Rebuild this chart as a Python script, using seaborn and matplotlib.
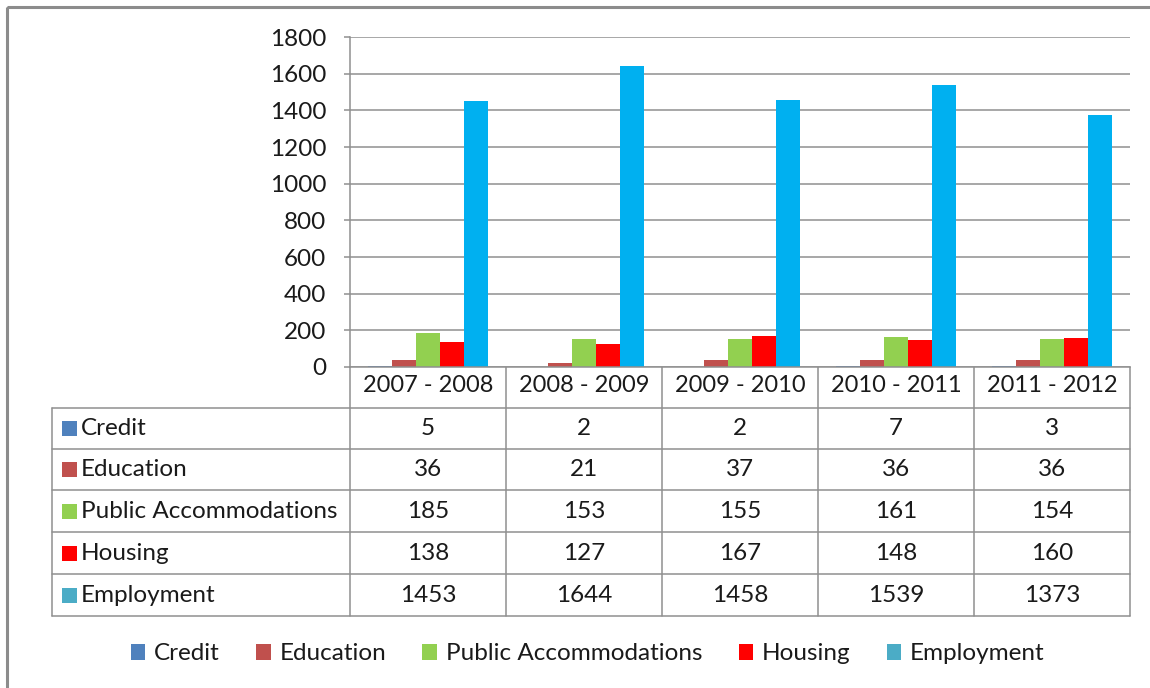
import matplotlib
matplotlib.use("Agg")
import matplotlib.pyplot as plt
from matplotlib.patches import Patch, Rectangle
import seaborn as sns
import pandas as pd

# ---- data ----
periods = ["2007 - 2008", "2008 - 2009", "2009 - 2010", "2010 - 2011", "2011 - 2012"]
series_names = ["Credit", "Education", "Public Accommodations", "Housing", "Employment"]
credit = [5, 2, 2, 7, 3]
education = [36, 21, 37, 36, 36]
public_accommodations = [185, 153, 155, 161, 154]
housing = [138, 127, 167, 148, 160]
employment = [1453, 1644, 1458, 1539, 1373]
y_ticks = [0, 200, 400, 600, 800, 1000, 1200, 1400, 1600, 1800]

series_values = [credit, education, public_accommodations, housing, employment]
bar_colors = ["#4F81BD", "#C0504D", "#92D050", "#FF0000", "#00B0F0"]
key_colors = ["#4F81BD", "#C0504D", "#92D050", "#FF0000", "#4BACC6"]

rows = []
for name, vals in zip(series_names, series_values):
    for p, v in zip(periods, vals):
        rows.append({"period": p, "type": name, "count": v})
df = pd.DataFrame(rows)

sns.set_theme(style="white")
FONT = ["Lato", "DejaVu Sans"]
plt.rcParams["font.family"] = FONT
FS = 17.5
TXT = "#1a1a1a"

W, H = 1150, 688
fig = plt.figure(figsize=(W / 100, H / 100), dpi=100)
fig.patch.set_facecolor("white")

# pixel geometry
AX_L, AX_R, AX_T, AX_B = 350, 1130, 37, 367
ax = fig.add_axes([AX_L / W, 1 - AX_B / H, (AX_R - AX_L) / W, (AX_B - AX_T) / H])

sns.barplot(data=df, x="period", y="count", hue="type", order=periods,
            hue_order=series_names, palette=bar_colors, width=0.77,
            saturation=1, ax=ax, legend=False, edgecolor="none", linewidth=0)

GRID = "#8f8f8f"
ax.set_xlim(-0.5, len(periods) - 0.5)
ax.set_ylim(0, 1800)
ax.set_yticks(y_ticks)
ax.set_yticklabels([str(t) for t in y_ticks])
ax.yaxis.grid(True, color=GRID, linewidth=1.1)
ax.set_axisbelow(True)
ax.set_xlabel("")
ax.set_ylabel("")
for s in ["top", "right"]:
    ax.spines[s].set_visible(False)
for s in ["left", "bottom"]:
    ax.spines[s].set_color(GRID)
    ax.spines[s].set_linewidth(1.1)
ax.tick_params(axis="y", direction="out", length=4, width=1.1, color=GRID,
               pad=13, labelsize=FS, labelcolor=TXT, left=True)
ax.tick_params(axis="x", length=0, pad=6, labelsize=17, labelcolor=TXT)

# ---- overlay for table, frame ----
ov = fig.add_axes([0, 0, 1, 1], zorder=-1)
ov.set_xlim(0, W)
ov.set_ylim(H, 0)
ov.axis("off")

# outer frame
ov.add_patch(Rectangle((7, 7), W + 20, H + 20, fill=False, edgecolor="#8c8c8c", linewidth=2.2))

ncol = len(periods)
colw = (AX_R - AX_L) / ncol
TBL_L = 52
row_edges = [408, 449, 490, 532, 574, 616]
LINE = "#8f8f8f"
lw = 1.1

# horizontal lines
for y in row_edges:
    ov.plot([TBL_L, AX_R], [y, y], color=LINE, linewidth=lw)
# vertical lines
ov.plot([TBL_L, TBL_L], [row_edges[0], row_edges[-1]], color=LINE, linewidth=lw)
for i in range(ncol + 1):
    x = AX_L + i * colw
    ov.plot([x, x], [AX_B, row_edges[-1]], color=LINE, linewidth=lw)

for r, (name, vals, kc) in enumerate(zip(series_names, series_values, key_colors)):
    y0, y1 = row_edges[r], row_edges[r + 1]
    yc = (y0 + y1) / 2
    ov.add_patch(Rectangle((62, yc - 7.5), 15, 15, facecolor=kc, edgecolor="none"))
    ov.text(81, yc, name, ha="left", va="center", fontsize=FS, color=TXT)
    for i, v in enumerate(vals):
        ov.text(AX_L + (i + 0.5) * colw, yc, str(v), ha="center", va="center",
                fontsize=FS, color=TXT)

# legend
handles = [Patch(facecolor=c, edgecolor="none", label=n) for c, n in zip(key_colors, series_names)]
leg = fig.legend(handles=handles, loc="center", bbox_to_anchor=(0.511, 1 - 654 / H),
                 ncol=5, frameon=False, fontsize=FS, handlelength=0.6, handleheight=0.6,
                 handletextpad=0.35, columnspacing=1.5)
for t in leg.get_texts():
    t.set_color(TXT)

fig.savefig("out.png", dpi=100, facecolor="white")
